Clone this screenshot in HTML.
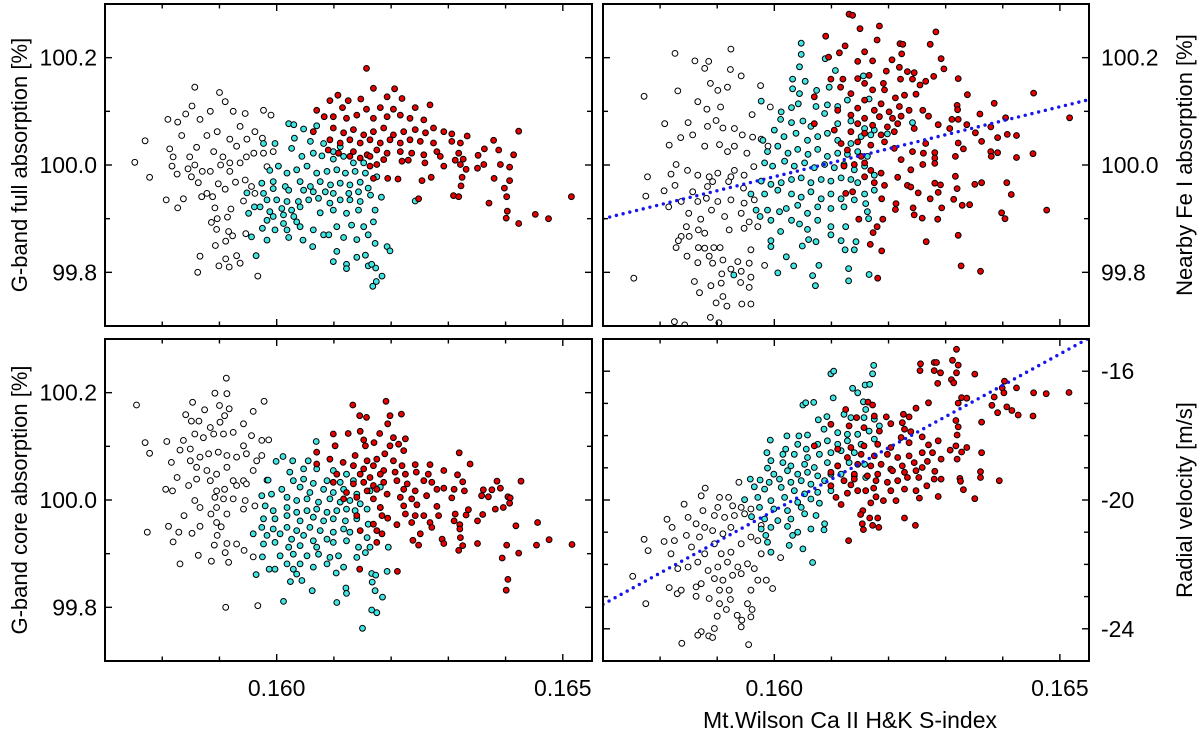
<!DOCTYPE html>
<html><head><meta charset="utf-8"><style>
html,body{margin:0;padding:0;background:#fff;}
svg{display:block;font-family:"Liberation Sans",Arial,sans-serif;}
</style></head><body>
<svg id="chart" width="1200" height="738" viewBox="0 0 1200 738" xmlns="http://www.w3.org/2000/svg"></svg>
<script>
// ---- Top-left: G-band full absorption vs S-index ----
const tlWhiteX=[0.15752,0.15770,0.15778,0.15810,0.15827,0.15807,0.15827,0.15837,0.15857,0.15852,0.15841,0.15900,0.15910,0.15924,0.15945,0.15977,0.15990,0.15866,0.15884,0.15834,0.15813,0.15819,0.15848,0.15860,0.15878,0.15896,0.15918,0.15930,0.15936,0.15948,0.15962,0.15975,0.15890,0.15906,0.15918,0.15936,0.15947,0.15960,0.15977,0.15994,0.15817,0.15826,0.15845,0.15857,0.15870,0.15884,0.15902,0.15918,0.15851,0.15863,0.15898,0.15910,0.15928,0.15945,0.15956,0.15962,0.15983,0.15869,0.15888,0.15878,0.15942,0.15892,0.15920,0.15914,0.15896,0.15886,0.15895,0.15916,0.15923,0.15946,0.15911,0.15893,0.15866,0.15930,0.15911,0.15917,0.15899,0.15936,0.15862,0.15967];
const tlWhiteY=[100.005,100.045,99.977,100.085,100.080,99.935,99.920,99.937,100.145,100.110,100.095,100.135,100.118,100.100,100.096,100.102,100.093,100.085,100.100,100.055,100.030,100.015,100.015,100.033,100.055,100.062,100.048,100.035,100.072,100.048,100.062,100.050,100.025,100.015,100.004,100.004,100.015,100.022,100.022,100.025,99.998,99.983,99.993,100.000,99.988,99.988,100.000,99.988,99.978,99.967,99.965,99.955,99.968,99.972,99.960,99.947,99.997,99.941,99.941,99.947,99.933,99.920,99.918,99.903,99.900,99.893,99.880,99.876,99.868,99.872,99.858,99.850,99.830,99.831,99.825,99.810,99.812,99.817,99.800,99.793];
const tlCyanX=[0.16021,0.16030,0.16047,0.16070,0.16031,0.16059,0.16082,0.16099,0.16111,0.15977,0.15997,0.16026,0.16044,0.16064,0.16079,0.16099,0.16117,0.16134,0.16152,0.15988,0.16003,0.16018,0.16035,0.16053,0.16070,0.16088,0.16105,0.16120,0.16137,0.16155,0.16175,0.15974,0.15994,0.16015,0.16041,0.16059,0.16076,0.16094,0.16111,0.16128,0.16146,0.16160,0.15948,0.15977,0.15994,0.16021,0.16047,0.16064,0.16085,0.16099,0.16126,0.16143,0.16164,0.16183,0.15983,0.16000,0.16018,0.16038,0.16056,0.16073,0.16093,0.16111,0.16128,0.16146,0.15961,0.15971,0.15988,0.16009,0.16026,0.16041,0.16076,0.16099,0.16122,0.16143,0.16172,0.15951,0.16012,0.16030,0.16035,0.16012,0.15994,0.15983,0.15975,0.15956,0.15997,0.16018,0.16041,0.16064,0.16082,0.16105,0.16131,0.16152,0.16169,0.15983,0.16021,0.16046,0.16063,0.16091,0.16117,0.16140,0.16160,0.16172,0.15964,0.16105,0.16140,0.16155,0.16193,0.16198,0.16099,0.16122,0.16122,0.16160,0.16173,0.16166,0.16184,0.16174,0.16168,0.16242];
const tlCyanY=[100.077,100.075,100.067,100.073,100.050,100.044,100.040,100.025,100.034,100.040,100.040,100.031,100.016,100.022,100.017,100.011,100.016,100.004,100.004,99.990,99.998,99.985,99.991,99.998,99.985,99.988,99.991,99.985,99.988,99.985,99.978,99.966,99.969,99.960,99.969,99.960,99.969,99.963,99.966,99.963,99.968,99.957,99.948,99.947,99.956,99.953,99.953,99.950,99.950,99.947,99.947,99.950,99.944,99.940,99.935,99.935,99.932,99.932,99.935,99.938,99.929,99.935,99.935,99.932,99.922,99.922,99.913,99.919,99.916,99.922,99.911,99.916,99.910,99.916,99.916,99.910,99.907,99.904,99.894,99.891,99.904,99.897,99.882,99.866,99.879,99.879,99.885,99.879,99.870,99.885,99.888,99.885,99.894,99.860,99.865,99.860,99.848,99.870,99.865,99.861,99.870,99.854,99.831,99.839,99.828,99.832,99.848,99.840,99.820,99.815,99.807,99.812,99.808,99.815,99.793,99.783,99.774,99.933];
const tlRedX=[0.16157,0.16169,0.16206,0.16107,0.16093,0.16125,0.16147,0.16193,0.16219,0.16242,0.16268,0.16070,0.16115,0.16157,0.16181,0.16204,0.16083,0.16099,0.16122,0.16140,0.16169,0.16193,0.16216,0.16233,0.16257,0.16064,0.16099,0.16117,0.16134,0.16152,0.16169,0.16187,0.16204,0.16222,0.16242,0.16260,0.16274,0.16292,0.16306,0.16333,0.16423,0.16093,0.16111,0.16128,0.16146,0.16163,0.16181,0.16198,0.16216,0.16233,0.16251,0.16274,0.16306,0.16321,0.16379,0.16090,0.16108,0.16134,0.16158,0.16175,0.16193,0.16216,0.16236,0.16257,0.16280,0.16318,0.16363,0.16388,0.16414,0.16352,0.16128,0.16146,0.16163,0.16187,0.16219,0.16230,0.16259,0.16286,0.16312,0.16326,0.16163,0.16175,0.16292,0.16321,0.16351,0.16362,0.16391,0.16407,0.16331,0.16169,0.16194,0.16212,0.16254,0.16270,0.16324,0.16380,0.16407,0.16322,0.16398,0.16309,0.16318,0.16402,0.16515,0.16248,0.16371,0.16403,0.16452,0.16475,0.16401,0.16423];
const tlRedY=[100.180,100.143,100.142,100.130,100.120,100.120,100.123,100.127,100.124,100.107,100.112,100.102,100.107,100.104,100.107,100.104,100.090,100.090,100.087,100.093,100.087,100.090,100.093,100.087,100.084,100.062,100.069,100.060,100.066,100.056,100.062,100.069,100.056,100.062,100.066,100.060,100.069,100.062,100.058,100.054,100.063,100.047,100.041,100.047,100.041,100.047,100.041,100.047,100.041,100.047,100.044,100.041,100.044,100.041,100.046,100.028,100.022,100.025,100.019,100.028,100.022,100.025,100.022,100.019,100.025,100.022,100.030,100.028,100.019,100.018,100.016,100.013,100.016,100.010,100.007,100.009,100.004,100.016,100.009,100.011,99.998,100.001,99.998,100.001,99.994,100.001,100.001,99.996,99.992,99.975,99.975,99.974,99.971,99.977,99.977,99.975,99.971,99.961,99.957,99.943,99.941,99.941,99.941,99.937,99.929,99.914,99.908,99.900,99.901,99.891];

// ---- Top-right: Nearby Fe I absorption vs S-index ----
const trWhiteX=[0.15754,0.15772,0.15778,0.15775,0.15826,0.15831,0.15861,0.15878,0.15885,0.15924,0.15923,0.15942,0.15888,0.15901,0.15918,0.15866,0.15882,0.15906,0.15976,0.15961,0.15993,0.15808,0.15849,0.15836,0.15857,0.15816,0.15883,0.15898,0.15910,0.15930,0.15944,0.15962,0.15878,0.15904,0.15918,0.15930,0.15952,0.15977,0.15989,0.15828,0.15819,0.15848,0.15866,0.15886,0.15901,0.15924,0.15947,0.15964,0.15930,0.15807,0.15826,0.15857,0.15883,0.15892,0.15920,0.15946,0.15815,0.15837,0.15866,0.15881,0.15901,0.15924,0.15947,0.15965,0.15850,0.15871,0.15890,0.15913,0.15942,0.15956,0.15846,0.15867,0.15878,0.15921,0.15947,0.15971,0.15837,0.15832,0.15851,0.15828,0.15847,0.15867,0.15878,0.15894,0.15905,0.15886,0.15959,0.15866,0.15892,0.15910,0.15936,0.15956,0.15983,0.15924,0.15908,0.15942,0.15959,0.15860,0.15889,0.15907,0.15941,0.15956,0.15869,0.15910,0.15898,0.15917,0.15943,0.15959,0.15825,0.15843,0.15888,0.15903];
const trWhiteY=[99.789,100.128,99.978,99.942,100.208,100.138,100.194,100.180,100.193,100.216,100.178,100.166,100.152,100.139,100.145,100.118,100.104,100.108,100.148,100.094,100.108,100.077,100.079,100.051,100.056,100.037,100.072,100.083,100.069,100.068,100.056,100.052,100.035,100.038,100.025,100.035,100.022,100.048,100.035,100.001,99.983,99.990,99.981,99.978,99.985,99.978,99.981,99.997,99.990,99.952,99.962,99.950,99.960,99.969,99.969,99.957,99.922,99.932,99.932,99.938,99.932,99.935,99.929,99.935,99.910,99.899,99.916,99.904,99.910,99.894,99.885,99.879,99.873,99.879,99.882,99.885,99.867,99.859,99.867,99.846,99.830,99.846,99.845,99.846,99.846,99.830,99.842,99.818,99.817,99.823,99.820,99.817,99.813,99.806,99.797,99.802,99.791,99.783,99.775,99.780,99.781,99.772,99.762,99.755,99.743,99.737,99.741,99.741,99.708,99.702,99.716,99.706];
const trCyanX=[0.16047,0.16047,0.16044,0.16089,0.16107,0.16032,0.16054,0.16032,0.16044,0.16074,0.16096,0.16156,0.15977,0.16012,0.16030,0.16042,0.16073,0.16093,0.16111,0.16128,0.16166,0.16011,0.16030,0.16050,0.16064,0.16088,0.16111,0.16134,0.16158,0.16175,0.16198,0.16242,0.15980,0.16000,0.16017,0.16038,0.16058,0.16076,0.16093,0.16111,0.16134,0.16152,0.16169,0.15988,0.16006,0.16024,0.16041,0.16059,0.16076,0.16093,0.16111,0.16128,0.16146,0.16163,0.15983,0.15997,0.16018,0.16035,0.16053,0.16070,0.16088,0.16105,0.16122,0.16140,0.16158,0.15977,0.15994,0.16012,0.16030,0.16047,0.16064,0.16082,0.16099,0.16117,0.16134,0.16146,0.16175,0.15959,0.15983,0.16006,0.16030,0.16047,0.16064,0.16082,0.16099,0.16117,0.16140,0.16158,0.16175,0.15968,0.15988,0.16009,0.16021,0.16041,0.16058,0.16076,0.16099,0.16122,0.16160,0.16163,0.15975,0.15994,0.16030,0.16044,0.16058,0.16076,0.16099,0.16125,0.16165,0.16011,0.15994,0.16060,0.16073,0.16099,0.16117,0.16143,0.15994,0.16049,0.16124,0.16140,0.16021,0.16078,0.16034,0.16130,0.16166,0.16006,0.16067,0.16130,0.16072,0.15929];
const trCyanY=[100.227,100.206,100.183,100.198,100.176,100.160,100.156,100.142,100.133,100.139,100.145,100.166,100.119,100.099,100.107,100.114,100.109,100.112,100.109,100.121,100.123,100.085,100.079,100.082,100.072,100.096,100.077,100.082,100.068,100.065,100.058,100.079,100.046,100.065,100.053,100.059,100.046,100.053,100.059,100.046,100.040,100.053,100.056,100.025,100.035,100.022,100.029,100.020,100.029,100.016,100.022,100.020,100.025,100.016,100.004,99.998,100.007,99.998,100.004,99.995,100.001,99.995,100.001,99.991,99.998,99.970,99.964,99.967,99.973,99.976,99.967,99.973,99.970,99.976,99.973,99.967,99.981,99.946,99.946,99.953,99.946,99.940,99.950,99.937,99.946,99.937,99.935,99.946,99.953,99.916,99.916,99.913,99.919,99.925,99.910,99.922,99.919,99.922,99.928,99.913,99.904,99.897,99.897,99.890,99.880,99.897,99.885,99.885,99.900,99.876,99.859,99.861,99.857,99.870,99.859,99.857,99.848,99.849,99.842,99.842,99.829,99.813,99.812,99.807,99.796,99.799,99.794,99.784,99.775,99.795];
const trRedX=[0.16131,0.16137,0.16184,0.16150,0.16090,0.16283,0.16180,0.16124,0.16220,0.16225,0.16273,0.16114,0.16158,0.16223,0.16095,0.16146,0.16172,0.16206,0.16292,0.16297,0.16219,0.16166,0.16146,0.16196,0.16233,0.16245,0.16279,0.16322,0.16099,0.16120,0.16221,0.16242,0.16265,0.16158,0.16191,0.16255,0.16116,0.16193,0.16172,0.16134,0.16228,0.16248,0.16338,0.16454,0.16070,0.16212,0.16158,0.16187,0.16385,0.16320,0.16111,0.16146,0.16175,0.16201,0.16219,0.16236,0.16260,0.16321,0.16134,0.16158,0.16184,0.16207,0.16222,0.16270,0.16360,0.16311,0.16322,0.16405,0.16517,0.16070,0.16146,0.16172,0.16198,0.16216,0.16245,0.16287,0.16337,0.16379,0.16105,0.16134,0.16158,0.16187,0.16210,0.16307,0.16352,0.16408,0.16391,0.16424,0.16117,0.16146,0.16169,0.16193,0.16265,0.16322,0.16363,0.16128,0.16210,0.16331,0.16242,0.16261,0.16281,0.16379,0.16391,0.16453,0.16152,0.16317,0.16380,0.16424,0.16222,0.16281,0.16158,0.16281,0.16122,0.16140,0.16260,0.16169,0.16187,0.16239,0.16158,0.16317,0.16216,0.16175,0.16281,0.16291,0.16351,0.16363,0.16407,0.16193,0.16233,0.16239,0.16320,0.16137,0.16287,0.16252,0.16415,0.16125,0.16188,0.16273,0.16314,0.16329,0.16342,0.16213,0.16212,0.16243,0.16293,0.16477,0.16398,0.16245,0.16259,0.16148,0.16190,0.16286,0.16404,0.16180,0.16173,0.16322,0.16266,0.16168,0.16188,0.16327,0.16361,0.16181];
const trRedY=[100.281,100.279,100.259,100.254,100.240,100.248,100.233,100.222,100.226,100.225,100.225,100.209,100.211,100.207,100.201,100.193,100.194,100.196,100.198,100.179,100.182,100.167,100.161,100.175,100.174,100.172,100.165,100.161,100.160,100.160,100.160,100.160,100.156,100.152,100.152,100.149,100.145,100.140,100.140,100.133,100.130,100.132,100.131,100.134,100.127,100.125,100.121,100.114,100.115,100.111,100.102,100.106,100.102,100.099,100.109,100.102,100.102,100.103,100.093,100.087,100.090,100.087,100.091,100.091,100.095,100.085,100.085,100.088,100.088,100.077,100.077,100.074,100.071,100.077,100.068,100.075,100.075,100.071,100.065,100.062,100.059,100.056,100.062,100.068,100.060,100.057,100.051,100.055,100.040,100.043,100.037,100.043,100.040,100.041,100.044,100.028,100.031,100.030,100.025,100.022,100.023,100.025,100.023,100.021,100.016,100.016,100.016,100.014,100.010,100.013,100.004,100.003,99.998,100.001,100.001,99.990,99.985,99.991,99.978,99.979,99.977,99.967,99.966,99.963,99.964,99.967,99.967,99.962,99.962,99.959,99.956,99.950,99.949,99.948,99.945,99.947,99.937,99.937,99.936,99.925,99.926,99.928,99.917,99.920,99.920,99.916,99.911,99.907,99.901,99.899,99.899,99.899,99.900,99.885,99.874,99.869,99.857,99.852,99.840,99.812,99.802,99.789];
const trFitX=[0.1570,0.16548];
const trFitY=[99.900,100.121];

// ---- Bottom-left: G-band core absorption vs S-index ----
const blWhiteX=[0.15755,0.15770,0.15778,0.15774,0.15808,0.15806,0.15811,0.15819,0.15829,0.15831,0.15838,0.15852,0.15863,0.15866,0.15853,0.15841,0.15851,0.15874,0.15892,0.15912,0.15913,0.15900,0.15917,0.15909,0.15942,0.15959,0.15978,0.15864,0.15884,0.15901,0.15831,0.15816,0.15826,0.15837,0.15849,0.15857,0.15872,0.15890,0.15907,0.15924,0.15942,0.15956,0.15974,0.15986,0.15849,0.15866,0.15881,0.15898,0.15913,0.15930,0.15947,0.15965,0.15974,0.15860,0.15878,0.15895,0.15913,0.15924,0.15942,0.15959,0.15983,0.15818,0.15846,0.15860,0.15884,0.15895,0.15909,0.15930,0.15947,0.15857,0.15866,0.15892,0.15907,0.15924,0.15945,0.15895,0.15913,0.15942,0.15962,0.15885,0.15895,0.15903,0.15896,0.15930,0.15913,0.15891,0.15943,0.15959,0.15910,0.15916,0.15886,0.15911,0.15967];
const blWhiteY=[100.177,100.107,100.087,99.940,100.109,100.020,99.951,99.922,99.940,99.881,99.971,99.938,99.897,99.951,100.182,100.159,100.147,100.168,100.199,100.227,100.198,100.176,100.170,100.157,100.142,100.165,100.184,100.147,100.135,100.145,100.093,100.070,100.042,100.111,100.095,100.123,100.116,100.123,100.123,100.126,100.101,100.120,100.111,100.112,100.073,100.080,100.086,100.089,100.083,100.080,100.086,100.073,100.083,100.061,100.055,100.048,100.061,100.036,100.036,100.055,100.037,100.017,100.027,100.039,100.036,100.017,100.020,100.027,100.030,99.999,99.986,100.005,100.002,100.002,99.999,99.986,99.974,99.983,99.989,99.974,99.958,99.950,99.934,99.918,99.919,99.916,99.906,99.894,99.902,99.884,99.886,99.800,99.803];
const blCyanX=[0.16069,0.16011,0.15999,0.16028,0.16055,0.16047,0.16023,0.16070,0.16099,0.16122,0.15985,0.16029,0.16047,0.16064,0.16088,0.16111,0.16134,0.16181,0.16009,0.16041,0.16058,0.16082,0.16099,0.16117,0.16140,0.16163,0.15974,0.15991,0.16018,0.16035,0.16053,0.16073,0.16093,0.16111,0.16128,0.16146,0.15980,0.15994,0.16018,0.16035,0.16053,0.16070,0.16088,0.16105,0.16122,0.16137,0.16158,0.16181,0.15977,0.15997,0.16018,0.16041,0.16064,0.16082,0.16099,0.16120,0.16140,0.16160,0.15974,0.15994,0.16018,0.16035,0.16058,0.16076,0.16099,0.16117,0.15959,0.15983,0.16006,0.16026,0.16047,0.16064,0.16088,0.16128,0.16158,0.15977,0.15997,0.16021,0.16041,0.16070,0.16099,0.16122,0.16143,0.16163,0.16195,0.15975,0.16006,0.16029,0.16053,0.16073,0.16093,0.16108,0.16140,0.16155,0.16018,0.16041,0.16064,0.16088,0.16117,0.15987,0.15997,0.16029,0.15964,0.16035,0.16044,0.16024,0.16104,0.16166,0.16173,0.16193,0.16167,0.16062,0.16121,0.16122,0.16172,0.16185,0.16012,0.16105,0.16166,0.16175,0.16150];
const blCyanY=[100.109,100.081,100.072,100.073,100.073,100.058,100.052,100.058,100.055,100.048,100.037,100.036,100.039,100.031,100.036,100.033,100.036,100.024,100.020,100.024,100.014,100.020,100.014,100.020,100.011,100.017,100.008,100.011,100.005,99.999,100.002,99.996,100.002,99.996,99.999,99.993,99.989,99.980,99.986,99.977,99.980,99.983,99.977,99.980,99.983,99.980,99.983,99.986,99.965,99.965,99.971,99.961,99.968,99.961,99.965,99.961,99.965,99.955,99.949,99.946,99.949,99.943,99.949,99.943,99.940,99.946,99.937,99.934,99.937,99.927,99.934,99.924,99.927,99.940,99.930,99.918,99.921,99.912,99.915,99.912,99.921,99.924,99.912,99.912,99.912,99.894,99.896,99.899,99.896,99.899,99.893,99.896,99.893,99.902,99.881,99.881,99.875,99.881,99.875,99.871,99.871,99.871,99.861,99.862,99.850,99.848,99.864,99.863,99.860,99.867,99.847,99.831,99.836,99.826,99.831,99.819,99.811,99.809,99.795,99.790,99.761];
const blRedX=[0.16133,0.16191,0.16145,0.16157,0.16198,0.16218,0.16194,0.16099,0.16125,0.16146,0.16180,0.16102,0.16152,0.16170,0.16204,0.16225,0.16155,0.16198,0.16213,0.16070,0.16093,0.16137,0.16158,0.16175,0.16189,0.16204,0.16222,0.16319,0.16070,0.16116,0.16134,0.16152,0.16169,0.16187,0.16219,0.16242,0.16268,0.16338,0.16105,0.16146,0.16163,0.16181,0.16207,0.16225,0.16244,0.16265,0.16292,0.16316,0.16099,0.16134,0.16152,0.16169,0.16187,0.16210,0.16228,0.16257,0.16271,0.16325,0.16385,0.16427,0.16122,0.16158,0.16175,0.16193,0.16222,0.16242,0.16280,0.16292,0.16310,0.16328,0.16361,0.16376,0.16391,0.16117,0.16140,0.16169,0.16216,0.16236,0.16262,0.16306,0.16358,0.16370,0.16404,0.16408,0.16181,0.16222,0.16245,0.16280,0.16335,0.16382,0.16396,0.16407,0.16140,0.16184,0.16225,0.16242,0.16257,0.16283,0.16312,0.16331,0.16360,0.16169,0.16194,0.16236,0.16268,0.16310,0.16351,0.16210,0.16320,0.16418,0.16456,0.16146,0.16175,0.16271,0.16320,0.16184,0.16251,0.16321,0.16289,0.16238,0.16292,0.16476,0.16516,0.16175,0.16248,0.16325,0.16351,0.16402,0.16454,0.16318,0.16423,0.16394,0.16145,0.16211,0.16404,0.16401];
const blRedY=[100.177,100.184,100.157,100.154,100.157,100.160,100.142,100.123,100.124,100.128,100.124,100.101,100.112,100.107,100.116,100.114,100.101,100.101,100.104,100.089,100.076,100.083,100.073,100.076,100.086,100.073,100.092,100.088,100.067,100.070,100.064,100.058,100.064,100.055,100.064,100.066,100.066,100.067,100.048,100.048,100.042,100.048,100.052,100.048,100.052,100.048,100.055,100.047,100.033,100.030,100.033,100.027,100.033,100.036,100.030,100.036,100.033,100.034,100.035,100.035,100.014,100.017,100.020,100.011,100.020,100.017,100.020,100.022,100.020,100.017,100.019,100.019,100.022,100.002,100.005,100.002,100.005,100.002,100.008,100.004,100.008,100.006,100.006,100.004,99.986,99.989,99.991,99.988,99.982,99.983,99.986,99.994,99.971,99.971,99.974,99.971,99.971,99.971,99.974,99.972,99.973,99.955,99.966,99.958,99.958,99.961,99.961,99.954,99.954,99.952,99.958,99.943,99.943,99.949,99.946,99.937,99.937,99.930,99.927,99.925,99.919,99.926,99.917,99.921,99.916,99.915,99.919,99.916,99.916,99.906,99.901,99.892,99.871,99.867,99.852,99.832];

// ---- Bottom-right: Radial velocity vs S-index ----
const brWhiteX=[0.15752,0.15772,0.15779,0.15775,0.15807,0.15812,0.15821,0.15842,0.15849,0.15825,0.15819,0.15831,0.15816,0.15830,0.15837,0.15846,0.15855,0.15849,0.15863,0.15863,0.15872,0.15879,0.15875,0.15863,0.15878,0.15869,0.15878,0.15866,0.15884,0.15872,0.15886,0.15904,0.15920,0.15901,0.15927,0.15895,0.15913,0.15930,0.15892,0.15910,0.15924,0.15942,0.15948,0.15959,0.15895,0.15907,0.15924,0.15942,0.15959,0.15971,0.15901,0.15918,0.15936,0.15953,0.15965,0.15895,0.15910,0.15927,0.15942,0.15971,0.15986,0.15904,0.15921,0.15959,0.15997,0.15904,0.15916,0.15923,0.15935,0.15953,0.15961,0.15900,0.15943,0.15942,0.15959,0.15895,0.15872,0.15866,0.15885,0.15892,0.15838,0.15955,0.15938,0.15977,0.15977,0.16011];
const brWhiteY=[-22.37,-21.22,-21.57,-23.22,-21.29,-20.60,-20.85,-20.13,-20.54,-21.26,-21.67,-22.13,-22.72,-22.91,-22.80,-21.10,-21.46,-22.08,-22.70,-22.99,-19.87,-19.63,-20.33,-20.74,-20.85,-21.15,-21.67,-21.93,-22.19,-22.60,-23.06,-19.92,-19.92,-20.23,-20.18,-20.48,-20.54,-20.48,-20.95,-21.05,-20.85,-20.23,-20.43,-20.28,-21.36,-21.67,-21.62,-21.36,-21.15,-21.26,-22.08,-21.93,-22.08,-21.98,-22.13,-22.44,-22.49,-22.34,-22.29,-22.49,-22.49,-22.80,-22.80,-22.80,-22.75,-23.22,-23.40,-23.09,-23.58,-23.22,-23.40,-23.61,-23.73,-23.94,-23.63,-23.99,-24.09,-24.20,-24.22,-24.27,-24.45,-24.49,-19.45,-20.79,-21.67,-21.79];
const brCyanX=[0.16099,0.16104,0.16174,0.16172,0.16137,0.16146,0.16159,0.16167,0.16050,0.16055,0.16069,0.16103,0.16156,0.16160,0.16077,0.16092,0.16122,0.16134,0.16157,0.16175,0.16184,0.16022,0.16043,0.16058,0.16087,0.16111,0.16128,0.16146,0.16166,0.15993,0.16020,0.16041,0.16056,0.16076,0.16093,0.16111,0.16128,0.16152,0.16175,0.15987,0.16015,0.16035,0.16058,0.16079,0.16099,0.16117,0.16140,0.15994,0.16015,0.16029,0.16053,0.16070,0.16093,0.16111,0.16131,0.16158,0.15988,0.15999,0.16023,0.16041,0.16058,0.16076,0.16099,0.16117,0.16140,0.16160,0.15958,0.15975,0.15991,0.16009,0.16029,0.16047,0.16064,0.16088,0.15965,0.15983,0.16012,0.16035,0.16053,0.16076,0.16099,0.15948,0.15971,0.15994,0.16018,0.16041,0.16064,0.16079,0.15974,0.15999,0.16023,0.16047,0.16073,0.15960,0.15983,0.16006,0.16029,0.16053,0.16088,0.15977,0.15994,0.16023,0.16041,0.16064,0.16087,0.15985,0.16032,0.15988,0.16026,0.16050,0.15994,0.16067];
const brCyanY=[-16.08,-16.00,-15.82,-16.08,-16.53,-16.67,-16.43,-16.41,-17.05,-16.98,-16.97,-16.83,-16.95,-17.19,-17.51,-17.41,-17.34,-17.44,-17.44,-17.49,-17.70,-18.01,-18.01,-17.98,-17.80,-17.91,-17.96,-17.96,-17.86,-18.14,-18.42,-18.27,-18.42,-18.27,-18.16,-18.27,-18.16,-18.27,-18.11,-18.53,-18.58,-18.58,-18.68,-18.58,-18.53,-18.47,-18.53,-18.78,-18.84,-18.94,-18.89,-18.99,-18.84,-18.94,-18.84,-18.89,-19.01,-19.20,-19.09,-19.20,-19.14,-19.25,-19.20,-19.20,-19.25,-19.30,-19.35,-19.38,-19.45,-19.35,-19.45,-19.40,-19.51,-19.40,-19.59,-19.66,-19.61,-19.71,-19.81,-19.76,-19.71,-19.99,-19.92,-20.02,-19.92,-20.07,-19.97,-20.10,-20.23,-20.28,-20.33,-20.23,-20.48,-20.52,-20.59,-20.64,-20.59,-20.43,-20.74,-20.90,-20.85,-20.82,-21.00,-20.90,-20.93,-21.10,-21.10,-21.31,-21.41,-21.52,-21.62,-21.94];
const brRedX=[0.16319,0.16256,0.16280,0.16284,0.16312,0.16322,0.16255,0.16280,0.16291,0.16319,0.16351,0.16310,0.16314,0.16286,0.16403,0.16424,0.16399,0.16402,0.16454,0.16476,0.16516,0.16385,0.16328,0.16337,0.16270,0.16164,0.16172,0.16322,0.16381,0.16407,0.16416,0.16391,0.16427,0.16453,0.16248,0.16226,0.16236,0.16125,0.16144,0.16175,0.16196,0.16204,0.16224,0.16318,0.16363,0.16099,0.16131,0.16157,0.16184,0.16228,0.16239,0.16322,0.16320,0.16259,0.16287,0.16270,0.16236,0.16222,0.16070,0.16111,0.16134,0.16157,0.16181,0.16204,0.16318,0.16337,0.16308,0.16328,0.16363,0.16128,0.16152,0.16175,0.16198,0.16216,0.16236,0.16259,0.16277,0.16292,0.16320,0.16268,0.16111,0.16146,0.16169,0.16187,0.16204,0.16224,0.16245,0.16259,0.16099,0.16140,0.16163,0.16181,0.16207,0.16228,0.16248,0.16281,0.16361,0.16122,0.16140,0.16178,0.16198,0.16216,0.16233,0.16253,0.16280,0.16292,0.16325,0.16361,0.16394,0.16099,0.16134,0.16160,0.16204,0.16228,0.16248,0.16267,0.16326,0.16331,0.16128,0.16174,0.16108,0.16146,0.16178,0.16191,0.16213,0.16254,0.16287,0.16351,0.16117,0.16169,0.16155,0.16151,0.16167,0.16181,0.16228,0.16154,0.16172,0.16183,0.16156,0.16247,0.16130];
const brRedY=[-15.32,-15.77,-15.73,-15.73,-15.66,-15.81,-15.98,-15.98,-16.05,-16.05,-16.09,-16.26,-16.36,-16.38,-16.31,-16.52,-16.52,-16.67,-16.67,-16.70,-16.66,-16.80,-16.82,-16.84,-16.98,-16.96,-17.05,-16.99,-17.06,-17.11,-17.22,-17.29,-17.36,-17.39,-17.15,-17.34,-17.42,-17.19,-17.44,-17.39,-17.42,-17.63,-17.60,-17.53,-17.58,-17.65,-17.70,-17.75,-17.86,-17.80,-17.88,-17.73,-17.98,-18.04,-18.16,-18.29,-18.22,-18.06,-18.32,-18.42,-18.37,-18.32,-18.27,-18.37,-18.32,-18.37,-18.45,-18.51,-18.53,-18.68,-18.58,-18.63,-18.58,-18.68,-18.63,-18.53,-18.53,-18.73,-18.73,-18.80,-18.94,-18.89,-18.94,-18.89,-19.04,-18.94,-18.84,-18.99,-19.14,-19.20,-19.25,-19.20,-19.09,-19.14,-19.09,-19.11,-19.12,-19.40,-19.35,-19.40,-19.45,-19.40,-19.30,-19.30,-19.35,-19.35,-19.33,-19.30,-19.40,-19.56,-19.53,-19.71,-19.71,-19.66,-19.71,-19.56,-19.42,-19.68,-19.79,-19.63,-19.92,-19.71,-19.90,-20.02,-20.02,-19.94,-19.89,-19.96,-20.14,-20.09,-20.33,-20.45,-20.56,-20.56,-20.56,-20.74,-20.79,-20.85,-20.92,-20.79,-21.26];
const brFitX=[0.1570,0.16548];
const brFitY=[-23.24,-15.0];

const xTicksMinor=[0.158,0.159,0.160,0.161,0.162,0.163,0.164,0.165];
const xTickLabels=["0.160","0.165"];
const xTickLabelVals=[0.160,0.165];
const absTicks=[99.8,99.9,100.0,100.1,100.2];
const absTickLabels=["99.8","100.0","100.2"];
const absTickLabelVals=[99.8,100.0,100.2];
const rvTicks=[-24,-23,-22,-21,-20,-19,-18,-17,-16];
const rvTickLabels=["-24","-20","-16"];
const rvTickLabelVals=[-24,-20,-16];

const NS="http://www.w3.org/2000/svg";
const svg=document.getElementById('chart');
function mk(tag,attrs,parent){const e=document.createElementNS(NS,tag);for(const k in attrs)e.setAttribute(k,attrs[k]);(parent||svg).appendChild(e);return e;}
const XMIN=0.157,XMAX=0.16551;
function makePanel(p){
  const xs=v=>p.x0+(v-XMIN)/(XMAX-XMIN)*(p.x1-p.x0);
  const ys=v=>p.y1-(v-p.ymin)/(p.ymax-p.ymin)*(p.y1-p.y0);
  const g=mk('g',{});
  
  
  const cp=mk('clipPath',{id:'clip-'+p.name},g);
  mk('rect',{x:p.x0,y:p.y0,width:p.x1-p.x0,height:p.y1-p.y0},cp);
  const pts=mk('g',{'clip-path':'url(#clip-'+p.name+')'},g);
  
  
  p.series.forEach(s=>{
    const sg=mk('g',{},pts);
    
    
    for(let i=0;i<s.x.length;i++){
      const c=mk('circle',{cx:xs(s.x[i]).toFixed(1),cy:ys(s.y[i]).toFixed(1),r:2.9,fill:s.fill,stroke:'#000','stroke-width':1},sg);
      
      
    }
  });
  if(p.fit){
    const l=mk('line',{x1:xs(p.fit.x[0]),y1:ys(p.fit.y[0]),x2:xs(p.fit.x[1]),y2:ys(p.fit.y[1]),stroke:'#1515ee','stroke-width':3.4,'stroke-linecap':'round','stroke-dasharray':'0 6.9'},pts);
    
    
  }
  const fr=mk('rect',{x:p.x0,y:p.y0,width:p.x1-p.x0,height:p.y1-p.y0,fill:'none',stroke:'#000','stroke-width':2},g);
  
  
  const tg=mk('g',{stroke:'#000','stroke-width':1.4},g);
  
  
  xTicksMinor.forEach(v=>{
    const X=xs(v),L=xTickLabelVals.includes(v)?7:4.5;
    mk('line',{x1:X,y1:p.y1,x2:X,y2:p.y1-L},tg);
    mk('line',{x1:X,y1:p.y0,x2:X,y2:p.y0+L},tg);
  });
  p.yticks.forEach(v=>{
    const Y=ys(v),L=p.ymajor.includes(v)?7:5;
    mk('line',{x1:p.x0,y1:Y,x2:p.x0+L,y2:Y},tg);
    mk('line',{x1:p.x1,y1:Y,x2:p.x1-L,y2:Y},tg);
  });
  if(p.xlabels){
    xTickLabelVals.forEach((v,i)=>{
      const t=mk('text',{x:xs(v),y:696,'text-anchor':'middle','font-size':23,fill:'#000'},g);
      t.textContent=xTickLabels[i];
      
      
    });
  }
  p.ymajor.forEach((v,i)=>{
    const t=mk('text',{x:p.side==='left'?p.x0-8:p.x1+12,y:ys(v)+8,'text-anchor':p.side==='left'?'end':'start','font-size':23,fill:'#000'},g);
    t.textContent=p.ylabels[i];
    
    
  });
  const cy=(p.y0+p.y1)/2, tx=p.side==='left'?27:1192;
  const tt=mk('text',{x:tx,y:cy,'text-anchor':'middle','font-size':22,fill:'#000',transform:'rotate(-90 '+tx+' '+cy+')'},g);
  tt.textContent=p.title;
  
  
}
const W='#ffffff',C='#3ee6e4',R='#e80000';
makePanel({name:'panel-g-band-full',x0:105,x1:592,y0:4,y1:326,ymin:99.7,ymax:100.3,yticks:absTicks,ymajor:absTickLabelVals,ylabels:absTickLabels,side:'left',title:'G-band full absorption [%]',xlabels:false,
  series:[{name:'low-activity',x:tlWhiteX,y:tlWhiteY,fill:W},{name:'mid-activity',x:tlCyanX,y:tlCyanY,fill:C},{name:'high-activity',x:tlRedX,y:tlRedY,fill:R}]});
makePanel({name:'panel-fe-i',x0:603,x1:1089,y0:4,y1:326,ymin:99.7,ymax:100.3,yticks:absTicks,ymajor:absTickLabelVals,ylabels:absTickLabels,side:'right',title:'Nearby Fe I absorption [%]',xlabels:false,
  series:[{name:'low-activity',x:trWhiteX,y:trWhiteY,fill:W},{name:'mid-activity',x:trCyanX,y:trCyanY,fill:C},{name:'high-activity',x:trRedX,y:trRedY,fill:R}],fit:{x:trFitX,y:trFitY}});
makePanel({name:'panel-g-band-core',x0:105,x1:592,y0:339,y1:661,ymin:99.7,ymax:100.3,yticks:absTicks,ymajor:absTickLabelVals,ylabels:absTickLabels,side:'left',title:'G-band core absorption [%]',xlabels:true,
  series:[{name:'low-activity',x:blWhiteX,y:blWhiteY,fill:W},{name:'mid-activity',x:blCyanX,y:blCyanY,fill:C},{name:'high-activity',x:blRedX,y:blRedY,fill:R}]});
makePanel({name:'panel-radial-velocity',x0:603,x1:1089,y0:339,y1:661,ymin:-25,ymax:-15,yticks:rvTicks,ymajor:rvTickLabelVals,ylabels:rvTickLabels,side:'right',title:'Radial velocity [m/s]',xlabels:true,
  series:[{name:'low-activity',x:brWhiteX,y:brWhiteY,fill:W},{name:'mid-activity',x:brCyanX,y:brCyanY,fill:C},{name:'high-activity',x:brRedX,y:brRedY,fill:R}],fit:{x:brFitX,y:brFitY}});
const xt=mk('text',{x:850,y:728,'text-anchor':'middle','font-size':23,fill:'#000'});
xt.textContent='Mt.Wilson Ca II H&K S-index';


</script>
</body></html>
